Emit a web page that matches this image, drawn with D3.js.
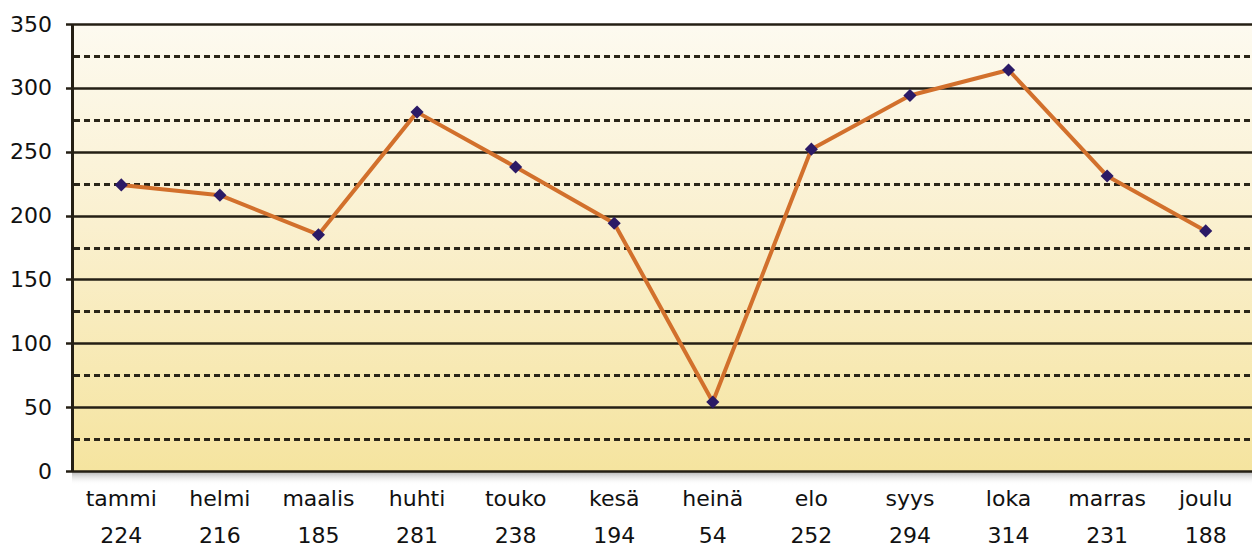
<!DOCTYPE html>
<html>
<head>
<meta charset="utf-8">
<script src="https://cdn.jsdelivr.net/npm/d3@7"></script>
<style>
  body { margin: 0; background: #fff; }
  svg text { font-family: "DejaVu Sans", sans-serif; fill: #111; }
</style>
</head>
<body>
<svg></svg>
<script>
const w = 1252;
const h = 548;

const months = ['tammi', 'helmi', 'maalis', 'huhti', 'touko', 'kesä', 'heinä', 'elo', 'syys', 'loka', 'marras', 'joulu'];
const values = [224, 216, 185, 281, 238, 194, 54, 252, 294, 314, 231, 188];
const majorTicks = [0, 50, 100, 150, 200, 250, 300, 350];
const minorTicks = [25, 75, 125, 175, 225, 275, 325];

const plotLeft = 72;
const plotRight = 1255;
const plotTop = 24;
const plotBottom = 471;

const svg = d3.select('svg').attr('width', w).attr('height', h);
const defs = svg.append('defs');

const bg = defs.append('linearGradient').attr('id', 'bg').attr('x1', 0).attr('y1', 0).attr('x2', 0).attr('y2', 1);
bg.append('stop').attr('offset', '0%').attr('stop-color', '#fdfaf0');
bg.append('stop').attr('offset', '45%').attr('stop-color', '#faf0cf');
bg.append('stop').attr('offset', '100%').attr('stop-color', '#f5e49f');

const shadow = defs.append('linearGradient').attr('id', 'shadow').attr('x1', 0).attr('y1', 0).attr('x2', 0).attr('y2', 1);
shadow.append('stop').attr('offset', '0%').attr('stop-color', '#888').attr('stop-opacity', 0.7);
shadow.append('stop').attr('offset', '100%').attr('stop-color', '#fff').attr('stop-opacity', 0);

const x = d3.scalePoint().domain(months).range([plotLeft, plotRight]).padding(0.5);
const y = d3.scaleLinear().domain([0, 350]).range([plotBottom, plotTop]);

// shadow under plot
svg.append('rect')
  .attr('x', plotLeft).attr('y', plotBottom).attr('width', w - plotLeft).attr('height', 14)
  .attr('fill', 'url(#shadow)');

svg.append('rect')
  .attr('x', plotLeft).attr('y', plotTop).attr('width', w - plotLeft).attr('height', plotBottom - plotTop)
  .attr('fill', 'url(#bg)');

// dashed minor gridlines
svg.append('g')
  .selectAll('line')
  .data(minorTicks)
  .enter()
  .append('line')
  .attr('x1', plotLeft + 2).attr('x2', w)
  .attr('y1', (d) => Math.round(y(d)) + 0.5).attr('y2', (d) => Math.round(y(d)) + 0.5)
  .attr('stroke', '#2a2518')
  .attr('stroke-width', 3)
  .attr('stroke-dasharray', '6,4');

// solid major gridlines
svg.append('g')
  .selectAll('line')
  .data(majorTicks)
  .enter()
  .append('line')
  .attr('x1', plotLeft - 6).attr('x2', w)
  .attr('y1', (d) => Math.round(y(d)) + 0.5).attr('y2', (d) => Math.round(y(d)) + 0.5)
  .attr('stroke', '#241f14')
  .attr('stroke-width', 2.5);

// y axis
const yAxis = d3.axisLeft(y).tickValues(majorTicks).tickSize(0).tickPadding(20);
const gy = svg.append('g').attr('transform', `translate(${plotLeft}, 0)`).call(yAxis);
gy.select('.domain').attr('stroke', '#241f14').attr('stroke-width', 3);
gy.selectAll('text').style('font-size', '22px').attr('fill', '#111');

// line
const line = d3.line()
  .x((d, i) => x(months[i]))
  .y((d) => y(d));

svg.append('path')
  .datum(values)
  .attr('fill', 'none')
  .attr('stroke', '#d2702c')
  .attr('stroke-width', 4)
  .attr('stroke-linejoin', 'round')
  .attr('d', line);

// markers
svg.append('g')
  .selectAll('path')
  .data(values)
  .enter()
  .append('path')
  .attr('d', d3.symbol().type(d3.symbolDiamond2).size(110))
  .attr('transform', (d, i) => `translate(${x(months[i])}, ${y(d)})`)
  .attr('fill', '#2b1a66');

// category labels
svg.append('g')
  .selectAll('text')
  .data(months)
  .enter()
  .append('text')
  .attr('x', (d) => x(d))
  .attr('y', 506)
  .attr('text-anchor', 'middle')
  .style('font-size', '22px')
  .text((d) => d);

// value labels
svg.append('g')
  .selectAll('text')
  .data(values)
  .enter()
  .append('text')
  .attr('x', (d, i) => x(months[i]))
  .attr('y', 543)
  .attr('text-anchor', 'middle')
  .style('font-size', '22px')
  .text((d) => d);
</script>
</body>
</html>
